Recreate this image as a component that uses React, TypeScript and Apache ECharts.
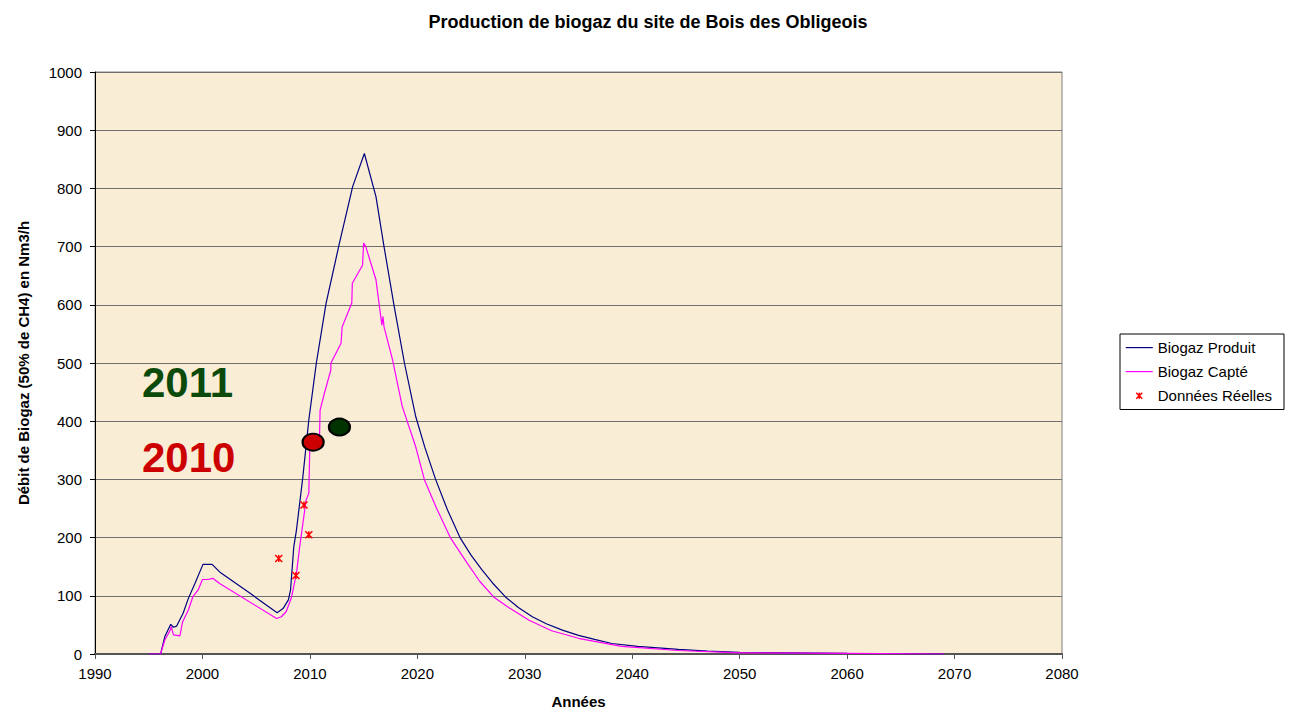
import React, { useEffect, useRef } from "react";
import * as echarts from "echarts";

const titleText = "Production de biogaz du site de Bois des Obligeois";
const xAxisName = "Années";
const yAxisName = "Débit de Biogaz (50% de CH4) en Nm3/h";

const produitYears = [1995, 1996.1, 1996.5, 1997.05, 1997.3, 1997.6, 1998.2, 1998.7, 1999.3, 2000.05, 2000.9, 2001.6, 2004.3, 2006.95, 2007.5, 2008.0, 2008.2, 2008.5, 2008.75, 2009.35, 2009.9, 2010.6, 2011.5, 2012.75, 2013.98, 2015.07, 2016.15, 2016.9, 2017.85, 2018.8, 2019.85, 2020.7, 2021.7, 2022.8, 2024.0, 2025.0, 2026.0, 2027.0, 2028.2, 2029.4, 2030.7, 2032.0, 2033.5, 2035.0, 2036.5, 2038.1, 2040.5, 2044.3, 2047.0, 2050, 2060, 2069];
const produitValues = [0, 0, 30, 51, 46, 48, 70, 96, 121, 154, 154, 141, 106, 71, 78, 93, 110, 184, 213, 305, 402, 500, 602, 706, 803, 860, 786, 700, 597, 500, 408, 355, 300, 248, 199, 170, 145, 122, 98, 80, 64, 52, 41, 32, 25, 18, 13, 8, 5, 3, 1, 0];

const capteYears = [1995, 1996.1, 1996.5, 1997.0, 1997.1, 1997.3, 1997.9, 1998.15, 1998.7, 1999.1, 1999.6, 2000.0, 2000.5, 2000.97, 2001.6, 2006.9, 2007.35, 2007.8, 2008.3, 2008.75, 2009.05, 2009.65, 2009.9, 2010.0, 2010.9, 2010.95, 2011.35, 2011.95, 2011.96, 2012.9, 2013.0, 2013.9, 2013.95, 2014.9, 2015.0, 2015.2, 2016.15, 2016.7, 2016.8, 2016.9, 2017.7, 2018.6, 2019.85, 2020.65, 2021.8, 2023.1, 2024.5, 2025.8, 2027.1, 2028.5, 2030.4, 2032.5, 2035.0, 2039.0, 2044.3, 2050, 2060, 2069];
const capteValues = [0, 0, 24, 41, 47, 33, 31, 55, 76, 98, 110, 128, 128, 130, 121, 61, 64, 73, 98, 139, 184, 265, 276, 362, 376, 419, 448, 488, 500, 534, 562, 603, 637, 668, 706, 700, 643, 565, 580, 562, 505, 425, 356, 300, 250, 199, 160, 125, 98, 80, 58, 40, 27, 13, 6, 2, 1, 0];

const reellesYears = [2007.1, 2008.7, 2009.45, 2009.9];
const reellesValues = [164, 135, 256, 205];

const markerYears = [2010.3, 2012.75];
const markerValues = [364, 390];
const markerLabels = ["2010", "2011"];
const markerColors = ["#cc0000", "#003300"];

const seriesNames = ["Biogaz Produit", "Biogaz Capté", "Données Réelles"];

const xTicks = [1990, 2000, 2010, 2020, 2030, 2040, 2050, 2060, 2070, 2080];
const yTicks = [0, 100, 200, 300, 400, 500, 600, 700, 800, 900, 1000];

const asterisk = "path://M0,0L8,8M8,0L0,8M4,0L4,8";
const asteriskIcon = "path://M0,0M10.5,4L16.5,10M16.5,4L10.5,10M13.5,4L13.5,10M27,14";
const lineIcon = "path://M0,0M0,6.5H27V7.7H0ZM27,14";

export default function App() {
  const ref = useRef<HTMLDivElement>(null);
  useEffect(() => {
    if (!ref.current) return;
    const chart = echarts.init(ref.current, null, { renderer: "svg" });
    const font = "Arial, 'Liberation Sans', sans-serif";
    const zip = (xs: number[], ys: number[]) => xs.map((x, i) => [x, ys[i]]);
    chart.setOption({
      animation: false,
      backgroundColor: "#ffffff",
      textStyle: { fontFamily: font },
      title: {
        text: titleText,
        left: 643,
        textAlign: "center",
        top: 8,
        textStyle: { fontSize: 18, fontWeight: "bold", color: "#000", fontFamily: font },
      },
      legend: {
        orient: "vertical",
        left: 1120,
        top: 334,
        data: [
          { name: seriesNames[0], icon: lineIcon, itemStyle: { color: "#000080" } },
          { name: seriesNames[1], icon: lineIcon, itemStyle: { color: "#ff00ff" } },
          { name: seriesNames[2], icon: asteriskIcon, itemStyle: { color: "#ff0000", borderColor: "#ff0000", borderWidth: 1.5 } },
        ],
        itemWidth: 27,
        itemHeight: 14,
        itemGap: 9,
        padding: [6, 12, 6, 5],
        borderColor: "#000",
        borderWidth: 1,
        backgroundColor: "#fff",
        borderRadius: 0,
        textStyle: { fontSize: 15, color: "#000", fontFamily: font },
      },
      grid: {
        left: 95,
        top: 72,
        width: 967,
        height: 582,
        show: true,
        outerBoundsMode: "none",
        containLabel: false,
        backgroundColor: "#f9edd6",
        borderColor: "#808080",
        borderWidth: 1,
      },
      xAxis: {
        type: "value",
        min: xTicks[0],
        max: xTicks[xTicks.length - 1],
        interval: 10,
        name: xAxisName,
        nameLocation: "middle",
        nameGap: 40,
        nameTextStyle: { fontSize: 15, fontWeight: "bold", color: "#000", fontFamily: font },
        axisLine: { show: true, onZero: false, lineStyle: { color: "#555", width: 2 } },
        axisTick: { show: true, inside: false, length: 5, lineStyle: { color: "#555" } },
        axisLabel: { fontSize: 15, color: "#000", margin: 12, fontFamily: font, formatter: (v: number) => String(v) },
        splitLine: { show: false },
      },
      yAxis: {
        type: "value",
        min: yTicks[0],
        max: yTicks[yTicks.length - 1],
        interval: 100,
        name: yAxisName,
        nameLocation: "middle",
        nameGap: 64,
        nameTextStyle: { fontSize: 15, fontWeight: "bold", color: "#000", fontFamily: font },
        axisLine: { show: true, lineStyle: { color: "#000", width: 1 } },
        axisTick: { show: true, inside: false, length: 5, lineStyle: { color: "#000" } },
        axisLabel: { fontSize: 15, color: "#000", margin: 13, fontFamily: font, formatter: (v: number) => String(v) },
        splitLine: { show: true, lineStyle: { color: "#707070", width: 1 } },
      },
      series: [
        {
          name: seriesNames[0],
          type: "line",
          data: zip(produitYears, produitValues),
          symbol: "none",
          smooth: false,
          lineStyle: { color: "#000080", width: 1.2 },
          itemStyle: { color: "#000080" },
          z: 3,
        },
        {
          name: seriesNames[1],
          type: "line",
          data: zip(capteYears, capteValues),
          symbol: "none",
          smooth: false,
          lineStyle: { color: "#ff00ff", width: 1.2 },
          itemStyle: { color: "#ff00ff" },
          z: 4,
        },
        {
          name: seriesNames[2],
          type: "scatter",
          data: zip(reellesYears, reellesValues),
          symbol: asterisk,
          symbolSize: 7,
          itemStyle: { color: "#ff0000", borderColor: "#ff0000", borderWidth: 1.5, opacity: 1 },
          z: 5,
        },
        {
          name: "markers",
          type: "scatter",
          data: markerYears.map((x, i) => ({
            value: [x, markerValues[i]],
            itemStyle: { color: markerColors[i] },
          })),
          symbol: "circle",
          symbolSize: [21, 17],
          itemStyle: { borderColor: "#000", borderWidth: 2, opacity: 1 },
          z: 6,
        },
      ],
      graphic: [
        {
          type: "text",
          left: 142,
          top: 361,
          style: { text: markerLabels[1], fontSize: 42, fontWeight: "bold", fill: "#0b4a0b", fontFamily: font },
          z: 10,
        },
        {
          type: "text",
          left: 142,
          top: 436,
          style: { text: markerLabels[0], fontSize: 42, fontWeight: "bold", fill: "#cc0000", fontFamily: font },
          z: 10,
        },
      ],
    });
    return () => chart.dispose();
  }, []);
  return <div ref={ref} style={{ position: "absolute", left: 0, top: 0, width: 1297, height: 711 }} />;
}
